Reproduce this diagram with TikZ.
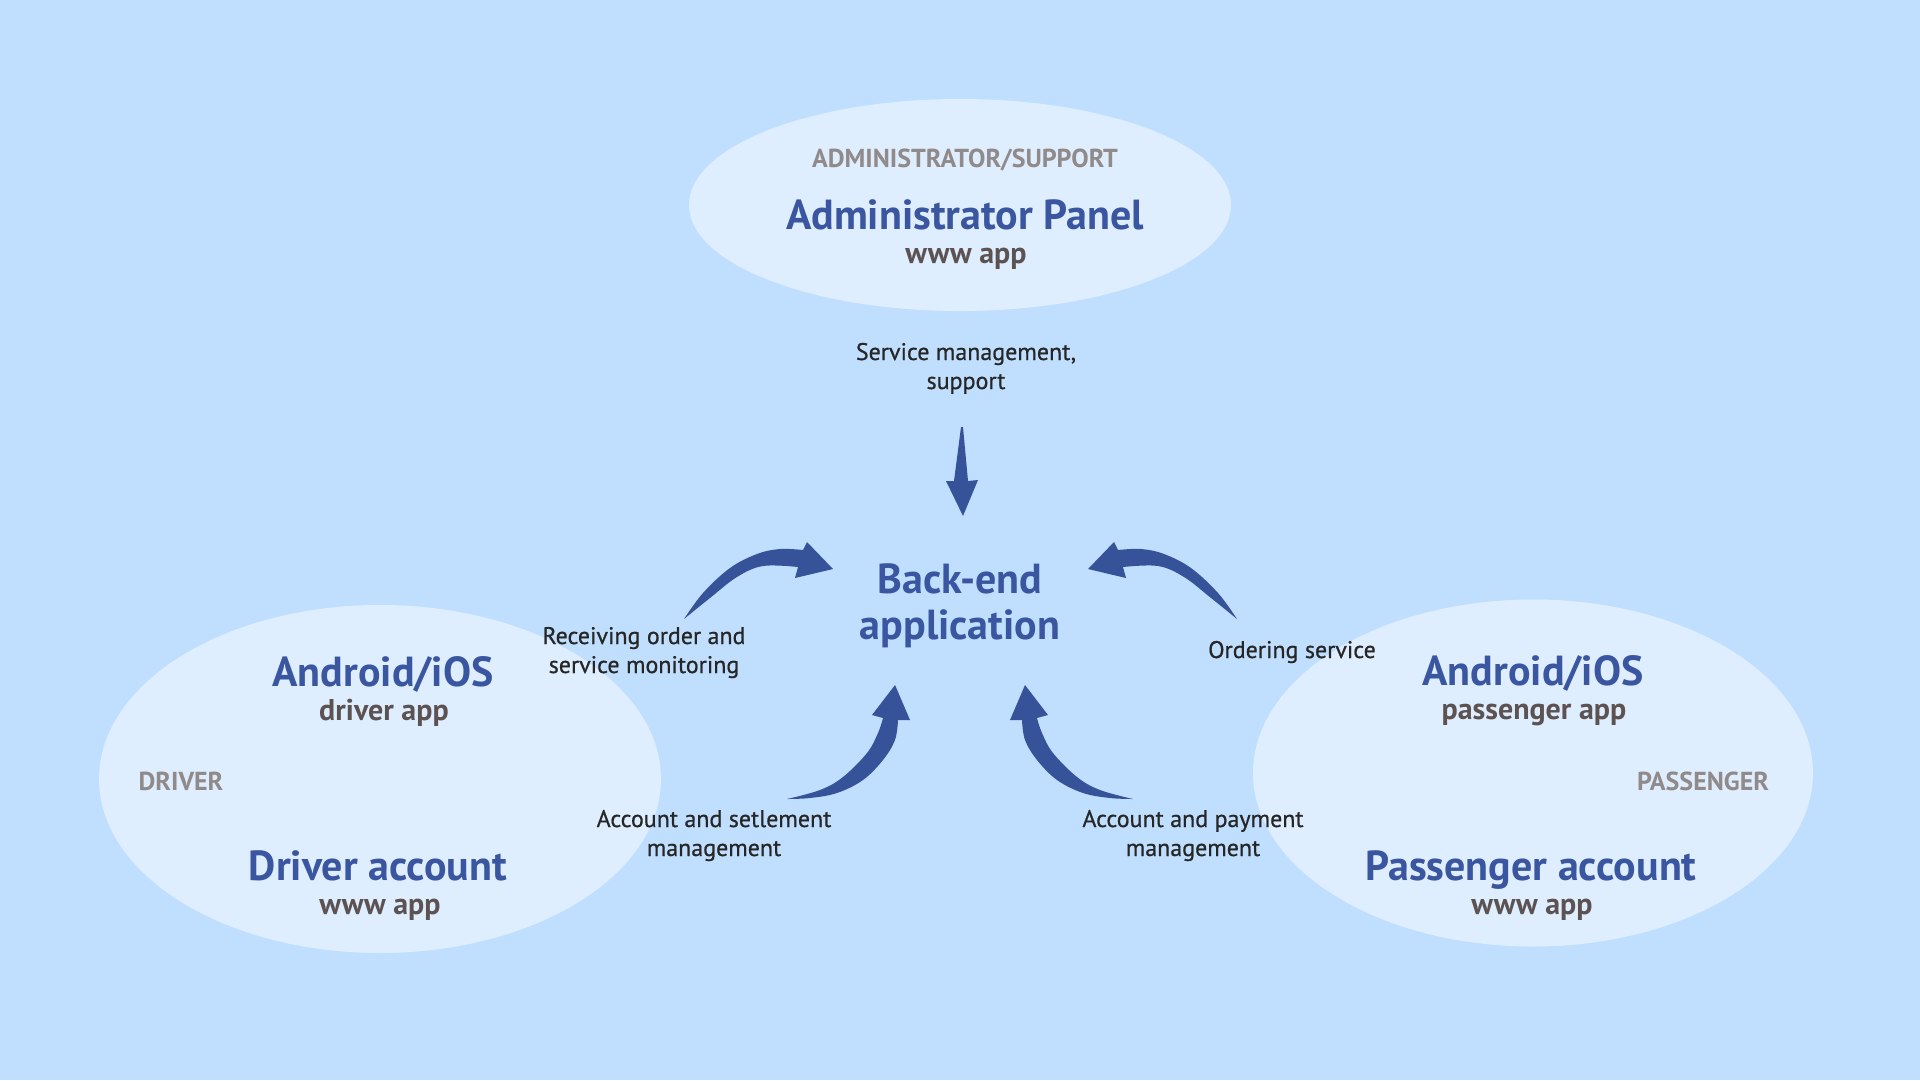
\documentclass[tikz,border=0pt]{standalone}
\usepackage{fontspec}
\setmainfont{PT Sans}
\newfontfamily\labelfont[FakeBold=0.6]{PT Sans}
\usetikzlibrary{shapes.geometric}
\definecolor{bgblue}{HTML}{C0DFFE}
\definecolor{zonefill}{HTML}{DFEEFE}
\definecolor{titleblue}{HTML}{3A56A0}
\definecolor{arrowblue}{HTML}{36539A}
\definecolor{rolegray}{HTML}{908A8A}
\definecolor{subgray}{HTML}{5C5252}
\definecolor{labeldark}{HTML}{262626}
\begin{document}
\begin{tikzpicture}[x=1pt,y=-1pt,
  zone/.style={ellipse, fill=zonefill, draw=none, inner sep=0pt},
  maintext/.style={text=titleblue, font=\bfseries\fontsize{42}{46}\selectfont, anchor=base, inner sep=0pt, align=center},
  subtext/.style={text=subgray, font=\bfseries\fontsize{30}{32}\selectfont, anchor=base, inner sep=0pt},
  roletext/.style={text=rolegray, font=\bfseries\fontsize{26}{28}\selectfont, anchor=base, inner sep=0pt},
  labeltext/.style={text=labeldark, font=\labelfont\fontsize{24}{29}\selectfont, align=center, anchor=base, inner sep=0pt},
  arrowshape/.style={fill=arrowblue, draw=none}]
\fill[bgblue] (0,0) rectangle (1920,1080);
\useasboundingbox (0,0) rectangle (1920,1080);

% zones
\node[zone, minimum width=542pt, minimum height=212pt] (adminzone) at (960,205) {};
\node[zone, minimum width=562pt, minimum height=348pt] (driverzone) at (380,779) {};
\node[zone, minimum width=560pt, minimum height=347pt] (passzone) at (1533,773) {};

% admin
\node[roletext] (adminrole) at (965,167) {ADMINISTRATOR/SUPPORT};
\node[maintext] (admintitle) at (965,229) {Administrator Panel};
\node[subtext] (adminsub) at (966,263) {www app};

% backend (base anchor = last line baseline)
\node[maintext] (backend) at (960,639) {Back-end\\application};

% driver
\node[maintext] (drvapp) at (383,686) {Android/iOS};
\node[subtext] (drvappsub) at (384,720) {driver app};
\node[roletext] (drvrole) at (181,790) {DRIVER};
\node[maintext] (drvacc) at (378,880) {Driver account};
\node[subtext] (drvaccsub) at (380,914) {www app};

% passenger
\node[maintext] (pasapp) at (1533,685) {Android/iOS};
\node[subtext] (pasappsub) at (1534,719) {passenger app};
\node[roletext] (pasrole) at (1703,790) {PASSENGER};
\node[maintext] (pasacc) at (1531,880) {Passenger account};
\node[subtext] (pasaccsub) at (1532,914) {www app};

% labels (base anchor = last line baseline)
\node[labeltext] (lblservice) at (966,389) {Service management,\\support};
\node[labeltext] (lblreceive) at (644,673) {Receiving order and\\service monitoring};
\node[labeltext] (lblorder) at (1292,658) {Ordering service};
\node[labeltext] (lblsettle) at (714,856) {Account and setlement\\management};
\node[labeltext] (lblpay) at (1193,856) {Account and payment\\management};

% arrows
% down arrow from admin to back-end
\fill[arrowshape] (961,427) -- (963,427) -- (968,481) -- (978,480) -- (963,516)
  -- (946,481) -- (954,481) -- cycle;

% upper left (driver app -> back-end)
\fill[arrowshape] plot[smooth, tension=0.6] coordinates {(684,619) (703,593) (730,568) (757,554) (780,549) (803,550)}
  -- (807,542) -- (833,569) -- (795,578)
  -- plot[smooth, tension=0.6] coordinates {(798,567) (763,566) (737,577) (710,598) (684,619)} -- cycle;

% upper right (passenger app -> back-end)
\fill[arrowshape] plot[smooth, tension=0.6] coordinates {(1237,619) (1218,593) (1191,568) (1164,554) (1141,549) (1118,550)}
  -- (1114,542) -- (1088,569) -- (1126,578)
  -- plot[smooth, tension=0.6] coordinates {(1123,567) (1158,566) (1184,577) (1211,598) (1237,619)} -- cycle;

% lower left (driver account -> back-end)
\fill[arrowshape] plot[smooth, tension=0.6] coordinates {(787,799) (820,790) (843,777) (867,753) (878,733) (883,718)}
  -- (872,715) -- (895,685) -- (910,720)
  -- plot[smooth, tension=0.6] coordinates {(898,720) (895,740) (883,760) (863,780) (837,793) (810,798) (787,799)} -- cycle;

% lower right (passenger account -> back-end)
\fill[arrowshape] plot[smooth, tension=0.6] coordinates {(1133,799) (1100,790) (1077,777) (1053,753) (1042,733) (1037,718)}
  -- (1048,715) -- (1025,685) -- (1010,720)
  -- plot[smooth, tension=0.6] coordinates {(1022,720) (1025,740) (1037,760) (1057,780) (1083,793) (1110,798) (1133,799)} -- cycle;
\end{tikzpicture}
\end{document}
